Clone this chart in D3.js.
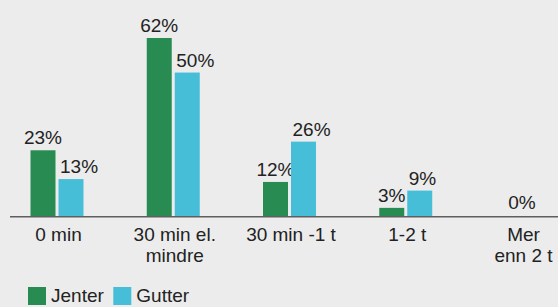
<!DOCTYPE HTML>
<html lang="no">
<head>
<meta charset="utf-8">
<title>Skjermtid</title>
<style>
html, body {
    margin: 0;
    padding: 0;
    background: #ececec;
 }
svg {
    display: block;
    font-family: "Liberation Sans", Arial, sans-serif;
 }
.val, .cat, .leg {
    fill: #222;
    font-size: 19px;
 }
</style>
</head>
<body>
<div id="chart"></div>

<script src="https://cdnjs.cloudflare.com/ajax/libs/d3/7.8.5/d3.min.js"></script>
<script>
(function() {
  'use strict';

// Data
const categories = ['0 min', '30 min el.|mindre', '30 min -1 t', '1-2 t', 'Mer|enn 2 t'];
const seriesNames = ['Jenter', 'Gutter'];
const jenter = [23, 62, 12, 3, 0];
const gutter = [13, 50, 26, 9, 0];

const colors = ['#288c52', '#47bed8'];

const width = 558;
const height = 307;
const baseline = 216.5;

const svg = d3.select('#chart')
  .append('svg')
  .attr('width', width)
  .attr('height', height);

// group centres
const x = d3.scalePoint()
  .domain(categories)
  .range([57, 522]);

// bars inside a group
const x1 = d3.scaleBand()
  .domain(seriesNames)
  .range([-26.5, 26.5])
  .paddingInner(3 / 28);

const y = d3.scaleLinear()
  .domain([0, d3.max(jenter.concat(gutter))])
  .range([baseline, 38]);

const color = d3.scaleOrdinal().domain(seriesNames).range(colors);

const rows = categories.map((c, i) => ({cat: c, values: [jenter[i], gutter[i]]}));

const groups = svg.selectAll('g.group')
  .data(rows)
  .enter()
  .append('g')
  .attr('class', 'group')
  .attr('transform', d => 'translate(' + x(d.cat) + ',0)');

const cells = groups.selectAll('g.cell')
  .data(d => d.values.map((v, i) => ({name: seriesNames[i], value: v, all: d.values})))
  .enter()
  .append('g')
  .attr('class', 'cell');

cells.append('rect')
  .attr('x', d => x1(d.name))
  .attr('y', d => y(d.value))
  .attr('width', x1.bandwidth())
  .attr('height', d => baseline - y(d.value))
  .attr('fill', d => color(d.name));

// value labels: girls centred, boys start at the bar's left edge,
// an all-zero group gets a single label in the middle
const zeroGroup = d => d3.max(d.all) === 0;

cells.filter(d => d.value > 0 || (d.name === seriesNames[0] && zeroGroup(d)))
  .append('text')
  .attr('class', 'val')
  .attr('text-anchor', d => zeroGroup(d) || d.name === seriesNames[0] ? 'middle' : 'start')
  .attr('x', d => {
    if (zeroGroup(d)) return 0;
    return d.name === seriesNames[0] ? x1(d.name) + x1.bandwidth() / 2 : x1(d.name) + 1.5;
  })
  .attr('y', d => y(d.value) - (zeroGroup(d) ? 7.5 : 6))
  .text(d => d.value + '%');

// axis line
svg.append('line')
  .attr('x1', 10)
  .attr('x2', width)
  .attr('y1', baseline + 0.3)
  .attr('y2', baseline + 0.3)
  .attr('stroke', '#5f5f5f')
  .attr('stroke-width', 1.5);

// category labels
const cat = svg.selectAll('text.cat')
  .data(categories)
  .enter()
  .append('text')
  .attr('class', 'cat')
  .attr('text-anchor', 'middle')
  .attr('transform', d => 'translate(' + (x(d) + 1.5) + ',' + (baseline + 24.5) + ')');

cat.selectAll('tspan')
  .data(d => d.split('|'))
  .enter()
  .append('tspan')
  .attr('x', 0)
  .attr('y', (d, i) => i * 20.7)
  .text(d => d);

// legend
const legend = svg.selectAll('g.leg')
  .data(seriesNames)
  .enter()
  .append('g')
  .attr('transform', (d, i) => 'translate(' + (28 + i * 85.3) + ',287)');

legend.append('rect')
  .attr('width', 18)
  .attr('height', 18)
  .attr('fill', d => color(d));

legend.append('text')
  .attr('class', 'leg')
  .attr('x', 23)
  .attr('y', 14.5)
  .text(d => d);

}());
</script>
</body>
</html>
